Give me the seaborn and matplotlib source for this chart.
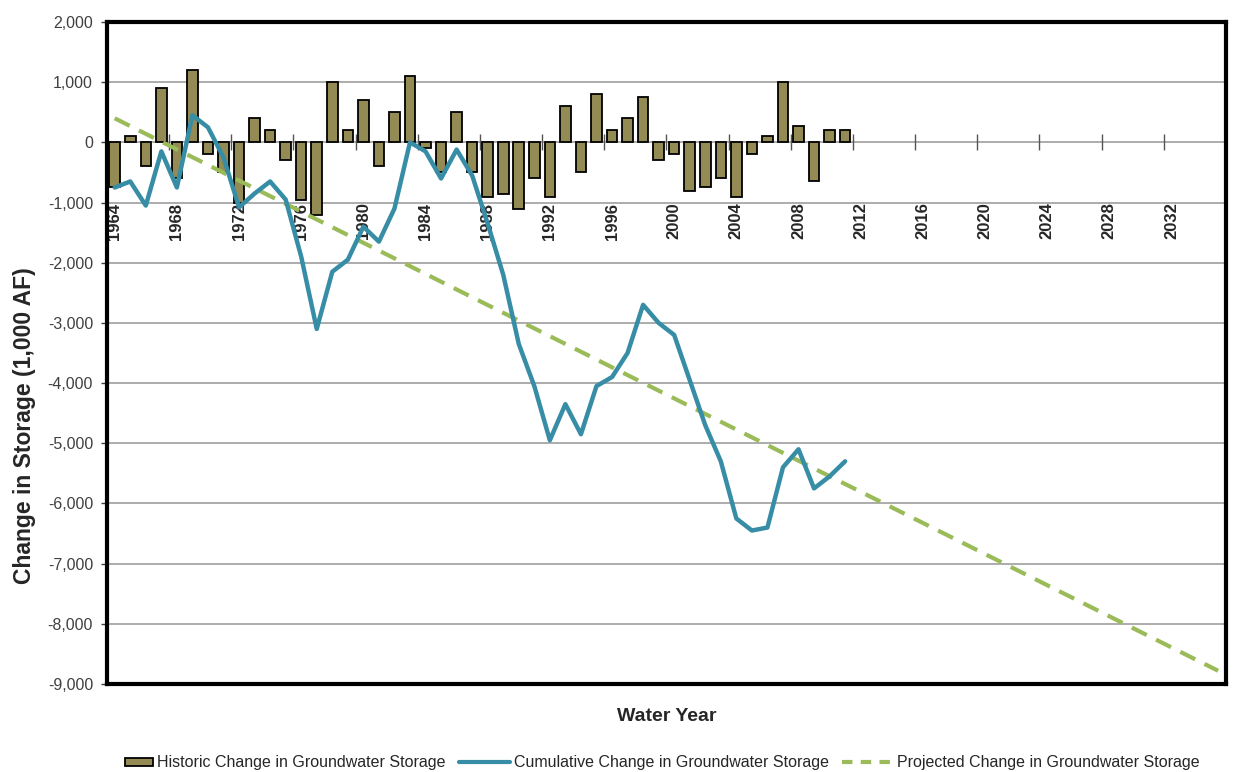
import matplotlib
matplotlib.use("Agg")
import numpy as np
import pandas as pd
import seaborn as sns
import matplotlib.pyplot as plt
from matplotlib.lines import Line2D
from matplotlib.patches import Patch, Rectangle
from matplotlib.legend_handler import HandlerPatch
from matplotlib.ticker import FuncFormatter

# données (1 000 AF)
years = list(range(1964, 2012))
annual_change = [-750, 100, -400, 900, -600, 1200, -200, -500, -1000, 400,
                 200, -300, -950, -1200, 1000, 200, 700, -400, 500, 1100,
                 -100, -500, 500, -500, -900, -850, -1100, -600, -900, 600,
                 -500, 800, 200, 400, 750, -300, -200, -800, -750, -600,
                 -900, -200, 100, 1000, 280, -650, 200, 200]
cumulative_change = [-750, -650, -1050, -150, -750, 450, 250, -250, -1080, -850,
                     -650, -950, -1900, -3100, -2150, -1950, -1400, -1650, -1100, 0,
                     -150, -600, -120, -550, -1350, -2200, -3350, -4050, -4950, -4350,
                     -4850, -4050, -3900, -3500, -2700, -3000, -3200, -3950, -4700, -5300,
                     -6250, -6450, -6400, -5400, -5100, -5750, -5550, -5300]
proj_years = [1964, 2035]
proj_change = [400, -8780]
label_years = list(range(1964, 2033, 4))

BAR = "#948A54"
TEAL = "#368DA5"
GREEN = "#9BBB59"

sns.set_style("white")
plt.rcParams["font.family"] = ["Liberation Sans", "DejaVu Sans"]

fig = plt.figure(figsize=(12.35, 7.72), dpi=100)
ax = fig.add_axes([0.0866, 0.114, 0.906, 0.8575])

ax.set_yticks(range(-9000, 2001, 1000))
ax.yaxis.grid(True, color="#a6a6a6", lw=1.3)
ax.set_axisbelow(True)

sns.barplot(x=years, y=annual_change, native_scale=True, width=0.68,
            color=BAR, saturation=1, edgecolor="black", linewidth=1.3,
            errorbar=None, ax=ax, zorder=2)
sns.lineplot(x=proj_years, y=proj_change, color=GREEN, lw=3,
             linestyle=(0, (4, 2.5)), ax=ax, zorder=3)
sns.lineplot(x=years, y=cumulative_change, color=TEAL, lw=3.2, ax=ax, zorder=4)

# marques de l'axe horizontal sur la ligne zéro
tick_pos = [y - 0.5 for y in label_years]
ax.plot(tick_pos, [0] * len(tick_pos), ls="none", marker="|", ms=11, mew=1.0,
        color="#555555", zorder=1.5)
for yr in label_years:
    ax.text(yr, -1000, str(yr), rotation=90, ha="center", va="top",
            fontsize=12, fontweight="bold", zorder=2.5)

ax.set_xlim(1963.5, 2035.5)
ax.set_ylim(-9000, 2000)
ax.set_xticks([])
ax.yaxis.set_major_formatter(FuncFormatter(lambda v, p: f"{v:,.0f}"))
ax.tick_params(axis="y", left=True, length=4, width=1, color="#404040",
               labelsize=11.5, labelcolor="#404040", pad=6)

for s in ax.spines.values():
    s.set_linewidth(3)
    s.set_color("black")
    s.set_zorder(6)

ax.set_ylabel("Change in Storage (1,000 AF)", fontsize=16.5, fontweight="bold")
ax.yaxis.set_label_coords(-0.0634, 0.39)
ax.set_xlabel("Water Year", fontsize=14, fontweight="bold")
ax.xaxis.set_label_coords(0.5, -0.036)


def bar_patch(legend, orig_handle, xdescent, ydescent, width, height, fontsize):
    return Rectangle((-xdescent + width * 0.45, -ydescent + height * 0.15),
                     width * 0.55, height * 0.7)


handles = [Patch(facecolor=BAR, edgecolor="black", lw=1.3),
           Line2D([], [], color=TEAL, lw=3),
           Line2D([], [], color=GREEN, lw=3, ls=(0, (2.5, 2)))]
labels = ["Historic Change in Groundwater Storage",
          "Cumulative Change in Groundwater Storage",
          "Projected Change in Groundwater Storage"]
fig.legend(handles, labels, loc="center", bbox_to_anchor=(0.527, 1 - 763 / 772),
           ncol=3, frameon=False, fontsize=11.5, handlelength=3.2,
           handletextpad=0.25, columnspacing=0.8,
           handler_map={Patch: HandlerPatch(patch_func=bar_patch)})

fig.savefig("out.png", dpi=100)
